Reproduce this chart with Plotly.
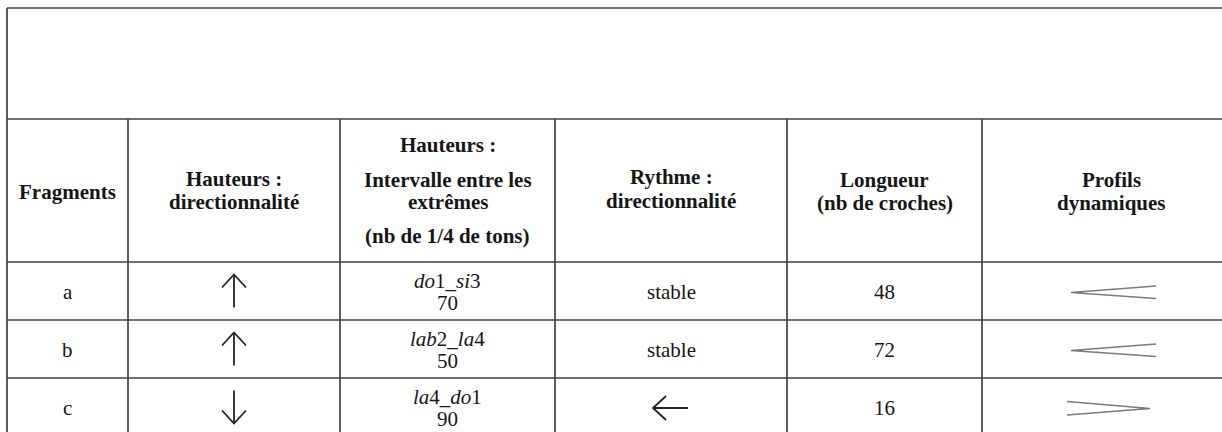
import plotly.graph_objects as go

# ---- data ----
fragments = ["a", "b", "c"]
pitch_direction = ["up", "up", "down"]
interval_notes = ["<i>do</i>1_<i>si</i>3", "<i>lab</i>2_<i>la</i>4", "<i>la</i>4_<i>do</i>1"]
interval_quarter_tones = [70, 50, 90]
rhythm_direction = ["stable", "stable", "left"]
length_quavers = [48, 72, 16]
dynamic_profiles = ["cresc", "cresc", "decresc"]

headers = [
    ["Fragments"],
    ["Hauteurs :", "directionnalité"],
    ["Hauteurs :", "Intervalle entre les", "extrêmes", "(nb de 1/4 de tons)"],
    ["Rythme :", "directionnalité"],
    ["Longueur", "(nb de croches)"],
    ["Profils", "dynamiques"],
]
header_line_y = [
    [192],
    [179, 202],
    [145, 180, 202, 236],
    [177, 201],
    [180, 203],
    [180, 203],
]

# ---- layout constants ----
W, H = 1222, 432
left, right = 7, 1240
top, top_box_bottom, header_bottom = 8, 119, 262
row_h = 58
col_edges = [left, 128, 340, 555, 787, 982, right]
col_centers = [(col_edges[i] + col_edges[i + 1]) / 2 for i in range(6)]
row_tops = [header_bottom + i * row_h for i in range(len(fragments))]
row_centers = [t + row_h / 2 for t in row_tops]

line_color = "#404040"
text_color = "#161616"
FONT = "Liberation Serif"
FS = 21

fig = go.Figure()
fig.add_trace(go.Scatter(x=[0, W], y=[0, H], mode="markers", marker=dict(opacity=0),
                         hoverinfo="skip", showlegend=False))

shapes = []
def hline(y, x0=left, x1=right):
    shapes.append(dict(type="line", xref="x", yref="y", x0=x0, x1=x1, y0=y, y1=y, line=dict(color=line_color, width=1.7)))
def vline(x, y0, y1):
    shapes.append(dict(type="line", xref="x", yref="y", x0=x, x1=x, y0=y0, y1=y1, line=dict(color=line_color, width=1.7)))

hline(top)
hline(top_box_bottom)
hline(header_bottom)
for t in row_tops[1:]:
    hline(t)
vline(left, top, H + 30)
for x in col_edges[1:-1]:
    vline(x, top_box_bottom, H + 30)

annotations = []
def text(x, y, s, bold=False):
    annotations.append(dict(x=x, y=y, xref="x", yref="y", text=("<b>%s</b>" % s) if bold else s,
                            showarrow=False, xanchor="center", yanchor="middle",
                            font=dict(family=FONT, size=FS, color=text_color)))

for ci, lines in enumerate(headers):
    for s, y in zip(lines, header_line_y[ci]):
        text(col_centers[ci], y, s, bold=True)

arrow_len, head_w, head_h = 33, 12, 13
def path(pts):
    return "M %s,%s " % pts[0] + " ".join("L %s,%s" % p for p in pts[1:])

for i, frag in enumerate(fragments):
    cy = row_centers[i]
    text(col_centers[0], cy + 1, frag)
    # pitch direction arrow
    cx = col_centers[1]
    sgn = -1 if pitch_direction[i] == "up" else 1
    tip = (cx, cy + sgn * arrow_len / 2)
    tail = (cx, cy - sgn * arrow_len / 2)
    shapes.append(dict(type="path", xref="x", yref="y", path=path([tail, tip]), line=dict(color="#222", width=1.8)))
    shapes.append(dict(type="path", xref="x", yref="y",
                       path=path([(cx - head_w, tip[1] - sgn * head_h), tip, (cx + head_w, tip[1] - sgn * head_h)]),
                       line=dict(color="#222", width=1.8)))
    # interval
    text(col_centers[2], cy - 10, interval_notes[i])
    text(col_centers[2], cy + 12, str(interval_quarter_tones[i]))
    # rhythm
    if rhythm_direction[i] == "left":
        cx = col_centers[3]
        tip = (cx - 18, cy + 1)
        tail = (cx + 17, cy + 1)
        shapes.append(dict(type="path", xref="x", yref="y", path=path([tail, tip]), line=dict(color="#222", width=1.8)))
        shapes.append(dict(type="path", xref="x", yref="y",
                           path=path([(tip[0] + 13, tip[1] - 12), tip, (tip[0] + 13, tip[1] + 12)]),
                           line=dict(color="#222", width=1.8)))
    else:
        text(col_centers[3], cy + 1, rhythm_direction[i])
    # length
    text(col_centers[4], cy + 1, str(length_quavers[i]))
    # dynamic profile hairpin
    hx = col_centers[5]
    if dynamic_profiles[i] == "cresc":
        x0, x1 = hx - 40, hx + 45
        pts = [(x1, cy - 5), (x0, cy + 1.5), (x1, cy + 7.5)]
    else:
        x0, x1 = hx - 44, hx + 39
        pts = [(x0, cy - 5.5), (x1, cy + 1.5), (x0, cy + 8)]
    shapes.append(dict(type="path", xref="x", yref="y", path=path(pts), line=dict(color="#7a7a7a", width=1.3)))

fig.update_layout(
    width=W, height=H, margin=dict(l=0, r=0, t=0, b=0),
    paper_bgcolor="white", plot_bgcolor="white",
    xaxis=dict(range=[0, W], visible=False, fixedrange=True),
    yaxis=dict(range=[H, 0], visible=False, fixedrange=True),
    shapes=shapes, annotations=annotations, showlegend=False,
)
fig.write_html("out.html", config={"displayModeBar": False},
               post_script="document.body.style.margin='0';document.body.style.overflow='hidden';")
